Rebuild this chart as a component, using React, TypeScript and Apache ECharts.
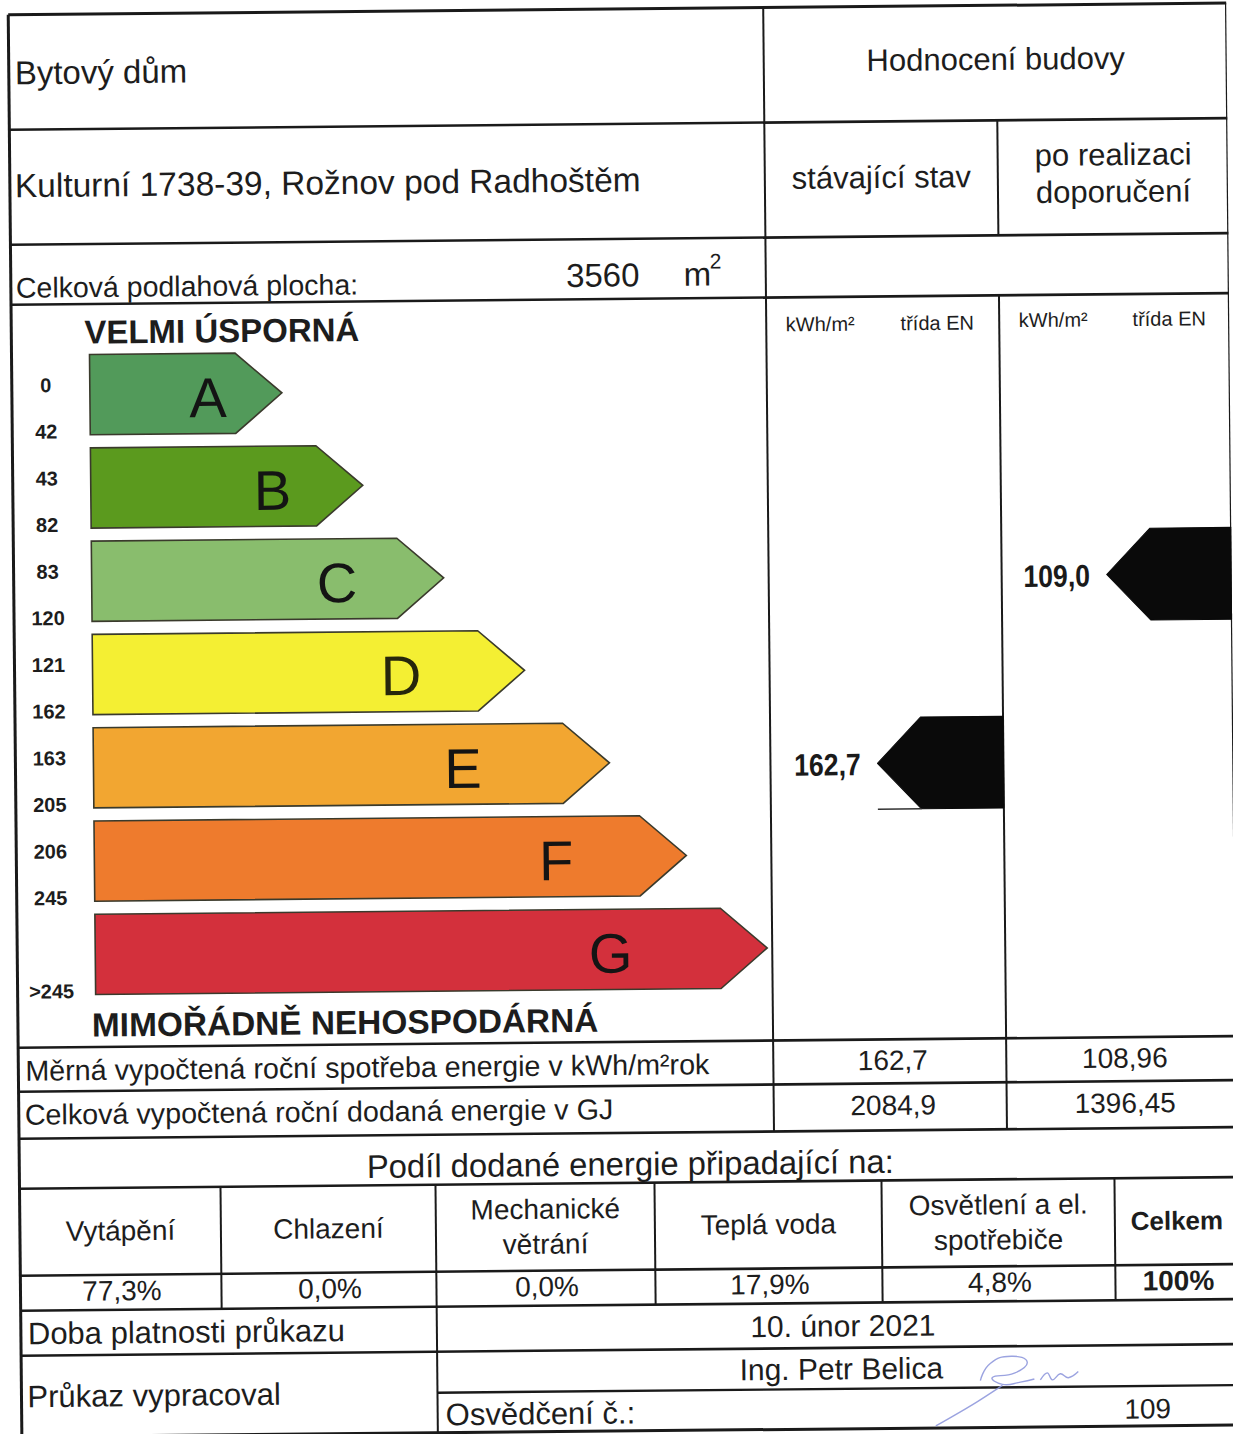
import React, { useEffect, useRef } from "react";
import * as echarts from "echarts";

// ---------------- data ----------------
const buildingType = "Bytový dům";
const address = "Kulturní 1738-39, Rožnov pod Radhoštěm";
const floorAreaM2 = 3560;
const classLabels = ["A", "B", "C", "D", "E", "F", "G"];
const classArrowLengths = [2.4, 3.4, 4.4, 5.4, 6.45, 7.4, 8.4];
const classLowerLabels = ["0", "43", "83", "121", "163", "206", ""];
const classUpperLabels = ["42", "82", "120", "162", "205", "245", ">245"];
const classUpperBounds = [42, 82, 120, 162, 205, 245, Infinity];
const ratingColumns = ["stávající stav", "po realizaci\ndoporučení"];
const markerValues = [162.7, 109.0];
const specificConsumption = [162.7, 108.96];
const deliveredEnergyGJ = [2084.9, 1396.45];
const shareCategories = ["Vytápění", "Chlazení", "Mechanické\nvětrání", "Teplá voda", "Osvětlení a el.\nspotřebiče", "Celkem"];
const shareValues = [77.3, 0.0, 0.0, 17.9, 4.8, 100];
const validUntil = "10. únor 2021";
const author = "Ing. Petr Belica";
const certificateNo = "109";

// ---------------- style / layout ----------------
const FONT = '"Liberation Sans", Arial, Helvetica, sans-serif';
const INK = "#1d1d1d";
const LINE = "#1a1a1a";
const classColors = ["#529a5a", "#5b9a1e", "#89bd6d", "#f4ef33", "#f2a631", "#ee7b2d", "#d3303c"];
const letterPos = [0.615, 0.668, 0.697, 0.714, 0.716, 0.78, 0.767];

const L = 15, R = 1234, T = 9, B = 1431;
const COL_MAIN = 770, COL_SPLIT = 1003;
const Y1 = 124, Y2 = 239, Y3 = 299, Y4 = 1042, Y5 = 1086, Y6 = 1133, Y7 = 1183, Y8 = 1270, Y9 = 1305, Y10 = 1350, Y11 = 1391;
const SHARE_COLS = [L, 216, 431, 650, 877, 1110, R];
const MARKER_LEN = 126;

const fmt = (v: number) => String(v).replace(".", ",");
const classIndexOf = (v: number) => classUpperBounds.findIndex((b) => v <= b);

function hLine(y: number, x1: number, x2: number, w = 2.6) {
  return { type: "line", silent: true, shape: { x1, y1: y, x2, y2: y }, style: { stroke: LINE, lineWidth: w } };
}
function vLine(x: number, y1: number, y2: number, w = 2) {
  return { type: "line", silent: true, shape: { x1: x, y1, x2: x, y2 }, style: { stroke: LINE, lineWidth: w } };
}
function txt(text: string, x: number, y: number, size: number, opts: any = {}) {
  const align = opts.align || "left";
  const weight = opts.bold ? "bold " : "";
  return {
    type: "text",
    silent: true,
    style: {
      text,
      x,
      y,
      font: `${weight}${size}px ${FONT}`,
      fill: opts.fill || INK,
      align,
      textAlign: align,
      verticalAlign: "middle",
      textVerticalAlign: "middle",
      lineHeight: opts.lineHeight || Math.round(size * 1.2),
    },
  };
}

function renderClass(params: any, api: any) {
  const i = params.dataIndex;
  const len = api.value(0);
  const idx = api.value(1);
  const p0 = api.coord([0, idx]);
  const p1 = api.coord([len, idx]);
  const band = api.size([0, 1])[1];
  const h = band * 0.86;
  const d = h * 0.58;
  const x0 = p0[0], x1 = p1[0], cy = p0[1];
  const top = cy - h / 2, bot = cy + h / 2;
  const center = { align: "center", verticalAlign: "middle", textAlign: "center", textVerticalAlign: "middle" };
  return {
    type: "group",
    children: [
      {
        type: "polygon",
        shape: { points: [[x0, top], [x1 - d, top], [x1, cy], [x1 - d, bot], [x0, bot]] },
        style: { fill: classColors[i], stroke: "#3a3a2c", lineWidth: 1.6 },
      },
      {
        type: "text",
        style: {
          text: classLabels[i], x: x0 + (x1 - x0) * letterPos[i], y: cy + 4,
          font: `56px ${FONT}`, fill: i === 3 ? "#26260c" : "#141414", ...center,
        },
      },
      {
        type: "text",
        style: { text: classLowerLabels[i], x: 49, y: cy - 10, font: `bold 20px ${FONT}`, fill: INK, ...center },
      },
      {
        type: "text",
        style: { text: classUpperLabels[i], x: 49, y: cy + 36.5, font: `bold 20px ${FONT}`, fill: INK, ...center },
      },
    ],
  };
}

function renderMarker(params: any, api: any) {
  const value = api.value(0);
  const idx = api.value(1);
  const col = api.value(2);
  const cy = api.coord([0, idx])[1] + 3;
  const h = api.size([0, 1])[1] * 0.985;
  const xr = col === 0 ? COL_SPLIT : R;
  const xt = xr - MARKER_LEN;
  const d = h / 2 * 0.95;
  const top = cy - h / 2, bot = cy + h / 2;
  const children: any[] = [
    {
      type: "polygon",
      shape: { points: [[xt + d, top], [xr, top], [xr, bot], [xt + d, bot], [xt, cy]] },
      style: { fill: "#0a0a0a", stroke: "#0a0a0a", lineWidth: 1, lineJoin: "round" },
    },
    {
      type: "text",
      x: xt - 50,
      y: cy + 1,
      scaleX: 0.86,
      style: {
        text: value.toFixed(1).replace(".", ","), x: 0, y: 0,
        font: `bold 31px ${FONT}`, fill: "#1a1a1a",
        align: "center", verticalAlign: "middle", textAlign: "center", textVerticalAlign: "middle",
      },
    },
  ];
  if (col === 0) {
    children.push({ type: "line", shape: { x1: xt, y1: bot, x2: xt + d, y2: bot }, style: { stroke: "#333", lineWidth: 1.4 } });
  }
  return { type: "group", children };
}

function buildGraphics() {
  const g: any[] = [];
  // frame
  g.push(hLine(T, L, R, 3));
  g.push(hLine(B, L, R, 3));
  g.push(vLine(L, T, B, 3));
  g.push(vLine(R - 1, T, B, 2.4));
  // horizontal rules
  [Y1, Y2, Y3, Y4, Y5, Y6, Y7, Y8, Y9, Y10].forEach((y) => g.push(hLine(y, L, R)));
  g.push(hLine(Y11, SHARE_COLS[2], R, 2.4));
  // vertical rules
  g.push(vLine(COL_MAIN, T, Y6));
  g.push(vLine(COL_SPLIT, Y1, Y2));
  g.push(vLine(COL_SPLIT, Y3, Y6));
  SHARE_COLS.slice(1, -1).forEach((x) => g.push(vLine(x, Y7, Y9)));
  g.push(vLine(SHARE_COLS[2], Y9, B));

  // header texts
  g.push(txt(buildingType, 21, 67, 33));
  g.push(txt("Hodnocení budovy", (COL_MAIN + R) / 2, 63, 31, { align: "center" }));
  g.push(txt(address, 20, 180, 33.5));
  g.push(txt(ratingColumns[0], (COL_MAIN + COL_SPLIT) / 2, 180, 31, { align: "center" }));
  g.push(txt(ratingColumns[1], (COL_SPLIT + R) / 2, 178, 31, { align: "center", lineHeight: 37 }));
  g.push(txt("Celková podlahová plocha:", 20, 282, 28.5));
  g.push(txt(String(floorAreaM2), 607, 275, 33, { align: "center" }));
  g.push(txt("m", 688, 275, 33));
  g.push(txt("2", 714, 262, 21));

  // energy section headings
  g.push(txt("VELMI ÚSPORNÁ", 88, 327, 33, { bold: true }));
  g.push(txt("MIMOŘÁDNĚ NEHOSPODÁRNÁ", 89, 1020, 33.4, { bold: true }));
  g.push(txt("kWh/m²", 824, 326, 20, { align: "center" }));
  g.push(txt("třída EN", 941, 326, 20, { align: "center" }));
  g.push(txt("kWh/m²", 1057, 324, 20, { align: "center" }));
  g.push(txt("třída EN", 1173, 324, 20, { align: "center" }));

  // measured values
  g.push(txt("Měrná vypočtená roční spotřeba energie v kWh/m²rok", 22, 1065, 28.7));
  g.push(txt("Celková vypočtená roční dodaná energie v GJ", 21, 1109, 28.7));
  const colCenters = [(COL_MAIN + COL_SPLIT) / 2 + 3, (COL_SPLIT + R) / 2 + 3];
  specificConsumption.forEach((v, i) => g.push(txt(fmt(v), colCenters[i], 1063, 28, { align: "center" })));
  deliveredEnergyGJ.forEach((v, i) => g.push(txt(fmt(v), colCenters[i], 1108, 28, { align: "center" })));

  // shares
  g.push(txt("Podíl dodané energie připadající na:", 626, 1164, 32.8, { align: "center" }));
  shareCategories.forEach((c, i) => {
    const cx = (SHARE_COLS[i] + SHARE_COLS[i + 1]) / 2;
    const last = i === shareCategories.length - 1;
    g.push(txt(c, cx, 1226, last ? 26 : 28, { align: "center", bold: last, lineHeight: 35 }));
    const v = shareValues[i];
    const label = last ? `${v}%` : `${v.toFixed(1).replace(".", ",")}%`;
    g.push(txt(label, cx + 1, 1286, 28, { align: "center", bold: last }));
  });

  // footer
  g.push(txt("Doba platnosti průkazu", 22, 1328, 31));
  g.push(txt(validUntil, 837, 1328, 30, { align: "center" }));
  g.push(txt("Průkaz vypracoval", 21, 1391, 31));
  g.push(txt(author, 835, 1371, 30, { align: "center" }));
  g.push(txt("Osvědčení č.:", 439, 1413, 31));
  g.push(txt(certificateNo, 1141, 1414, 28, { align: "center" }));

  // signature strokes
  const sig = { stroke: "#8a93da", lineWidth: 1.4, fill: null, opacity: 0.85 };
  g.push({ type: "polyline", silent: true, shape: { smooth: 0.5, points: [[974, 1384], [984, 1367], [1005, 1360], [1021, 1366], [1008, 1377], [986, 1381], [996, 1388], [1014, 1386], [1028, 1383]] }, style: sig });
  g.push({ type: "polyline", silent: true, shape: { smooth: 0.4, points: [[1034, 1384], [1041, 1377], [1046, 1384], [1054, 1378], [1062, 1382], [1072, 1376]] }, style: sig });
  g.push({ type: "polyline", silent: true, shape: { smooth: 0.3, points: [[996, 1389], [966, 1408], [929, 1429]] }, style: sig });
  return g;
}

export default function App() {
  const ref = useRef<HTMLDivElement>(null);
  useEffect(() => {
    if (!ref.current) return;
    const chart = echarts.init(ref.current, undefined, { renderer: "svg" });
    const option: any = {
      animation: false,
      backgroundColor: "#ffffff",
      grid: { left: 93, top: 343, width: 680, height: 653, containLabel: false },
      xAxis: { type: "value", min: 0, max: 8.5, show: false },
      yAxis: { type: "category", data: classLabels, inverse: true, show: false },
      series: [
        {
          type: "custom",
          name: "Energetické třídy",
          renderItem: renderClass,
          encode: { x: 0, y: 1 },
          data: classArrowLengths.map((v, i) => [v, i]),
          z: 2,
        },
        {
          type: "custom",
          name: "Hodnocení",
          renderItem: renderMarker,
          encode: { x: 0, y: 1 },
          data: markerValues.map((v, i) => [v, classIndexOf(v), i]),
          z: 3,
        },
      ],
      graphic: { elements: buildGraphics() },
    };
    chart.setOption(option);
    return () => chart.dispose();
  }, []);
  return (
    <div style={{ position: "fixed", left: 0, top: 0, width: 1233, height: 1434, overflow: "hidden", background: "#fff" }}>
      <div
        ref={ref}
        style={{ width: 1233, height: 1434, transform: "rotate(-0.55deg)", transformOrigin: "50% 50%" }}
      />
    </div>
  );
}
